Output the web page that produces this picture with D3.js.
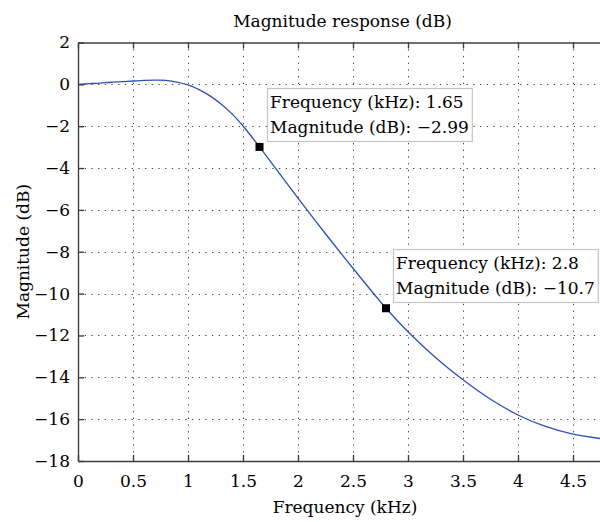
<!DOCTYPE html>
<html><head><meta charset="utf-8">
<script src="https://cdn.jsdelivr.net/npm/d3@7"></script>
<style>
body{margin:0;background:#fff}
svg text{font-family:"DejaVu Serif",serif;fill:#000}
</style>
</head><body><svg id="c" width="600" height="522"></svg>
<script>
const freq = [0, 0.1, 0.2, 0.3, 0.4, 0.5, 0.6, 0.7, 0.8, 0.9, 1.0, 1.1, 1.2, 1.3, 1.4, 1.5, 1.65, 1.8, 2.0, 2.25, 2.5, 2.8, 3.0, 3.25, 3.5, 3.75, 4.0, 4.25, 4.5, 4.8];
const magnitude = [0, 0.03, 0.06, 0.1, 0.13, 0.16, 0.19, 0.2, 0.19, 0.11, -0.03, -0.25, -0.55, -0.94, -1.41, -1.99, -2.99, -4.04, -5.44, -7.14, -8.79, -10.7, -11.82, -13.05, -14.12, -15.05, -15.8, -16.35, -16.72, -16.96];
const xTicks = [0, 0.5, 1, 1.5, 2, 2.5, 3, 3.5, 4, 4.5];
const yTicks = [2, 0, -2, -4, -6, -8, -10, -12, -14, -16, -18];
const markerFreq = [1.65, 2.8];
const markerMag = [-2.99, -10.7];
const markerLine1 = ["Frequency (kHz): 1.65", "Frequency (kHz): 2.8"];
const markerLine2 = ["Magnitude (dB): \u22122.99", "Magnitude (dB): \u221210.7"];
const titleText = "Magnitude response (dB)";
const xLabelText = "Frequency (kHz)";
const yLabelText = "Magnitude (dB)";

const W = 600, H = 522;
const L = 78, R = 606, T = 42.5, B = 461;
const FS = 17;
const FONT = "DejaVu Serif, serif";
const svg = d3.select("#c");
svg.append("rect").attr("width", W).attr("height", H).attr("fill", "#fff");

const x = d3.scaleLinear().domain([0, 4.8]).range([L, R]);
const y = d3.scaleLinear().domain([-18, 2]).range([B, T]);

// grid
const grid = svg.append("g");
xTicks.filter(d => d > 0).forEach(d => {
  grid.append("line")
    .attr("x1", Math.round(x(d)) + 0.5).attr("x2", Math.round(x(d)) + 0.5)
    .attr("y1", T).attr("y2", B)
    .attr("stroke", "#444").attr("stroke-width", 1).attr("stroke-dasharray", "1.3,5.4");
});
yTicks.filter(d => d > -18 && d < 2).forEach(d => {
  grid.append("line")
    .attr("y1", Math.round(y(d)) + 0.5).attr("y2", Math.round(y(d)) + 0.5)
    .attr("x1", L).attr("x2", R)
    .attr("stroke", "#444").attr("stroke-width", 1).attr("stroke-dasharray", "1.3,5.4");
});

// curve
const line = d3.line().x((d, i) => x(freq[i])).y(d => y(d)).curve(d3.curveCatmullRom);
svg.append("path").datum(magnitude).attr("d", line).attr("fill", "none")
  .attr("stroke", "#2e50b4").attr("stroke-width", 1.3);

// axes
function styleAxis(g) {
  g.selectAll("path,line").attr("stroke", "#404040").attr("stroke-width", 1.4);
  g.selectAll("text").attr("font-size", FS).attr("font-family", FONT).attr("fill", "#000");
}
svg.append("g").attr("transform", `translate(0,${B})`)
  .call(d3.axisBottom(x).tickValues(xTicks).tickSize(-6).tickSizeOuter(0).tickPadding(14)
    .tickFormat(d3.format("~g"))).call(styleAxis);
svg.append("g").attr("transform", `translate(0,${T})`)
  .call(d3.axisTop(x).tickValues(xTicks).tickSize(-6).tickSizeOuter(0).tickFormat("")).call(styleAxis);
svg.append("g").attr("transform", `translate(${L},0)`)
  .call(d3.axisLeft(y).tickValues(yTicks).tickSize(-6).tickSizeOuter(0).tickPadding(8)
    .tickFormat(d3.format("~g"))).call(styleAxis);
svg.append("g").attr("transform", `translate(${R},0)`)
  .call(d3.axisRight(y).tickValues(yTicks).tickSize(-6).tickSizeOuter(0).tickFormat("")).call(styleAxis);

// labels
svg.append("text").attr("x", 342.5).attr("y", 27).attr("text-anchor", "middle")
  .attr("font-size", FS).text(titleText);
svg.append("text").attr("x", 345).attr("y", 513).attr("text-anchor", "middle")
  .attr("font-size", FS).text(xLabelText);
svg.append("text").attr("transform", `translate(29,${(T + B) / 2}) rotate(-90)`)
  .attr("text-anchor", "middle").attr("font-size", FS).text(yLabelText);

// data tips
markerFreq.forEach((f, i) => {
  const mx = x(f), my = y(markerMag[i]);
  const g = svg.append("g");
  const bx = Math.round(mx) + 7, by = Math.round(my) - 59;
  const rect = g.append("rect").attr("x", bx + 0.5).attr("y", by + 0.5).attr("height", 53)
    .attr("fill", "#fff").attr("stroke", "#c4c4c4").attr("stroke-width", 1.2);
  const t1 = g.append("text").attr("x", bx + 3).attr("y", by + 20).attr("font-size", FS).text(markerLine1[i]);
  const t2 = g.append("text").attr("x", bx + 3).attr("y", by + 45).attr("font-size", FS).text(markerLine2[i]);
  const w = Math.max(t1.node().getComputedTextLength(), t2.node().getComputedTextLength()) + 6;
  rect.attr("width", w);
  svg.append("rect").attr("x", mx - 4).attr("y", my - 4).attr("width", 8).attr("height", 8).attr("fill", "#000");
});
</script>
</body></html>
